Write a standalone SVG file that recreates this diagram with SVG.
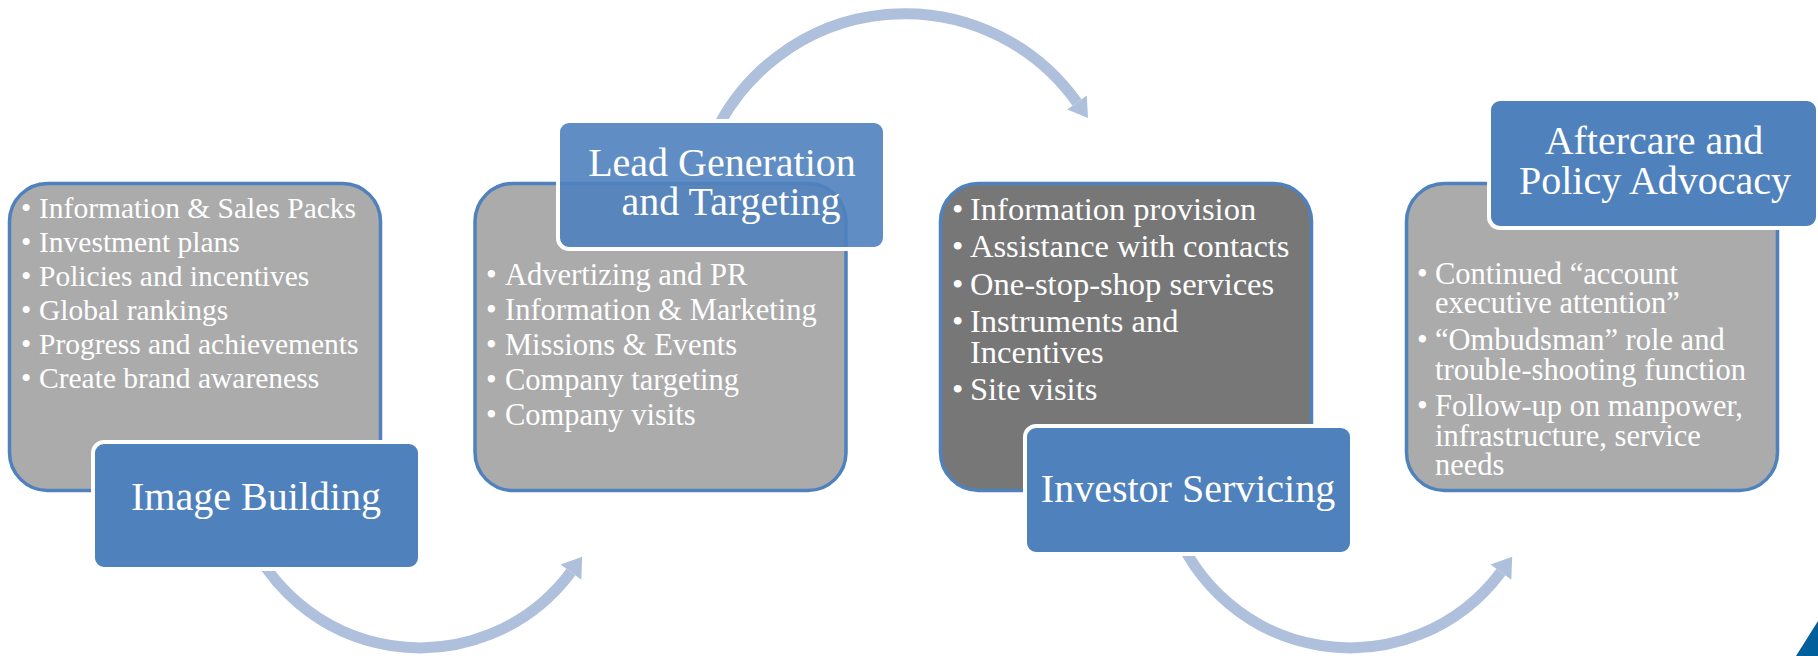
<svg xmlns="http://www.w3.org/2000/svg" width="1818" height="656" viewBox="0 0 1818 656">
  <style>
    .card { stroke: #4F81BD; stroke-width: 3.5; }
    .light { fill: #ABABAB; }
    .dark { fill: #777777; }
    .label { fill: #4F81BD; stroke: #FFFFFF; stroke-width: 4; }
    .arc { fill: none; stroke: #AFC0DD; stroke-width: 11; }
    .head { fill: #AFC0DD; }
    text { font-family: "Liberation Serif", "Times New Roman", serif; fill: #FFFFFF; }
    .t { font-size: 40px; text-anchor: middle; }
  </style>
  <defs>
    <clipPath id="clipTop">
      <rect x="0" y="0" width="1818" height="120.5"/>
    </clipPath>
  </defs>

  <g id="connectors">
    <path class="arc" clip-path="url(#clipTop)" d="M714,135 A211,211 0 0 1 1077,102.5"/>
    <polygon class="head" points="1088,118 1086.8,95.6 1067.2,109.4"/>
    <path class="arc" d="M242,520 A188,188 0 0 0 570.9,572.1"/>
    <polygon class="head" points="582.2,556.8 581.3,579.8 560.5,564.4"/>
    <path class="arc" d="M1172,520 A188,188 0 0 0 1500.9,572.1"/>
    <polygon class="head" points="1512.2,556.8 1511.3,579.8 1490.5,564.4"/>
  </g>

  <g id="image-building">
    <rect class="card light" x="9.5" y="183.5" width="371" height="307" rx="38"/>
    <text style="font-size:29.5px">
      <tspan x="21" y="218">•</tspan><tspan x="39" y="218">Information &amp; Sales Packs</tspan>
      <tspan x="21" y="252">•</tspan><tspan x="39" y="252">Investment plans</tspan>
      <tspan x="21" y="286">•</tspan><tspan x="39" y="286">Policies and incentives</tspan>
      <tspan x="21" y="320">•</tspan><tspan x="39" y="320">Global rankings</tspan>
      <tspan x="21" y="354">•</tspan><tspan x="39" y="354">Progress and achievements</tspan>
      <tspan x="21" y="388">•</tspan><tspan x="39" y="388">Create brand awareness</tspan>
    </text>
    <rect class="label" x="93" y="442" width="327" height="127" rx="11"/>
    <text class="t" x="256" y="510">Image Building</text>
  </g>

  <g id="lead-generation">
    <rect class="card light" x="475" y="183.5" width="371" height="307" rx="38"/>
    <text style="font-size:30.5px">
      <tspan x="486" y="285">•</tspan><tspan x="505" y="285">Advertizing and PR</tspan>
      <tspan x="486" y="320">•</tspan><tspan x="505" y="320">Information &amp; Marketing</tspan>
      <tspan x="486" y="355">•</tspan><tspan x="505" y="355">Missions &amp; Events</tspan>
      <tspan x="486" y="390">•</tspan><tspan x="505" y="390">Company targeting</tspan>
      <tspan x="486" y="425">•</tspan><tspan x="505" y="425">Company visits</tspan>
    </text>
    <rect class="label" x="558" y="121" width="327" height="128" rx="11" style="fill-opacity:0.9"/>
    <text class="t" x="722" y="176">Lead Generation</text>
    <text class="t" x="731" y="215">and Targeting</text>
  </g>

  <g id="investor-servicing">
    <rect class="card dark" x="940.5" y="183.5" width="371" height="307" rx="38"/>
    <text style="font-size:32.5px">
      <tspan x="952" y="220">•</tspan><tspan x="970" y="220">Information provision</tspan>
      <tspan x="952" y="257">•</tspan><tspan x="970" y="257">Assistance with contacts</tspan>
      <tspan x="952" y="295">•</tspan><tspan x="970" y="295">One-stop-shop services</tspan>
      <tspan x="952" y="332">•</tspan><tspan x="970" y="332">Instruments and</tspan>
      <tspan x="970" y="363">Incentives</tspan>
      <tspan x="952" y="400">•</tspan><tspan x="970" y="400">Site visits</tspan>
    </text>
    <rect class="label" x="1025" y="426" width="327" height="128" rx="11"/>
    <text class="t" x="1188" y="502">Investor Servicing</text>
  </g>

  <g id="aftercare">
    <rect class="card light" x="1406.5" y="183.5" width="371" height="307" rx="38"/>
    <text style="font-size:30.5px">
      <tspan x="1417" y="284">•</tspan><tspan x="1435" y="284">Continued “account</tspan>
      <tspan x="1435" y="313">executive attention”</tspan>
      <tspan x="1417" y="350">•</tspan><tspan x="1435" y="350">“Ombudsman” role and</tspan>
      <tspan x="1435" y="380">trouble-shooting function</tspan>
      <tspan x="1417" y="416">•</tspan><tspan x="1435" y="416">Follow-up on manpower,</tspan>
      <tspan x="1435" y="446">infrastructure, service</tspan>
      <tspan x="1435" y="475">needs</tspan>
    </text>
    <rect class="label" x="1489" y="99" width="329" height="129" rx="11"/>
    <text class="t" x="1654" y="153.5">Aftercare and</text>
    <text class="t" x="1655" y="194">Policy Advocacy</text>
  </g>

  <polygon id="corner" points="1796,656 1818,621 1818,656" fill="#00609C"/>
</svg>
